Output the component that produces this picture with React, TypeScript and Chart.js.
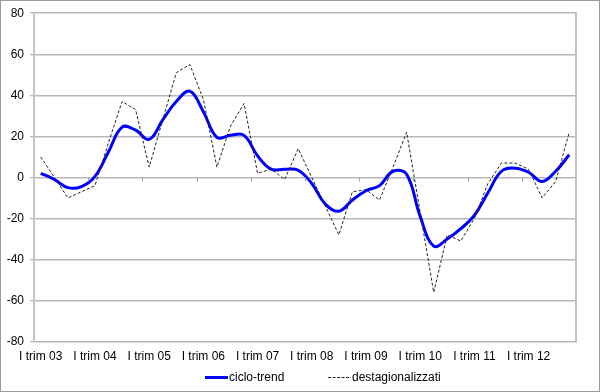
import React, { useEffect, useRef } from "react";
import { Chart, registerables } from "chart.js";

Chart.register(...registerables);

const years = ["03", "04", "05", "06", "07", "08", "09", "10", "11", "12"];
const quarters = ["I", "II", "III", "IV"];
const categories: string[] = years.flatMap((y) => quarters.map((q) => `${q} trim ${y}`));

const cicloTrend = [
  2, -1, -5, -4.5, 0.5, 12.5, 24.5, 23, 18.5, 28,
  37, 42, 32, 19.5, 20.5, 20.5, 10.5, 4, 4, 3.5,
  -3, -13, -16.5, -11, -6.5, -4, 3, 1.5, -19, -33.5,
  -30, -25, -18.5, -7.5, 3, 4.5, 2.5, -2, 3, 11,
];

const destagionalizzati = [
  10, 0, -10, -7, -4, 17, 37, 33, 5, 28,
  51, 55, 38, 5, 25, 36, 2, 4, -1, 14,
  0, -14, -28, -7, -6, -11, 5, 22, -17, -56,
  -28, -31, -20, -3, 7, 7, 4, -10, -2, 22,
];

const yTicks = { min: -80, max: 80, step: 20 };
const seriesNames = ["ciclo-trend", "destagionalizzati"];

const FONT = "'Liberation Sans', Arial, sans-serif";

const decorPlugin = {
  id: "decor",
  afterDraw(chart: any) {
    const { ctx, chartArea, scales } = chart;
    const x = scales.x;
    const y = scales.y;
    ctx.save();
    // plot right border
    ctx.strokeStyle = "#c4c4c4";
    ctx.lineWidth = 2;
    ctx.beginPath();
    ctx.moveTo(chartArea.right, chartArea.top - 1);
    ctx.lineTo(chartArea.right, chartArea.bottom + 1);
    ctx.stroke();
    // category tick marks on zero line
    const y0 = Math.round(y.getPixelForValue(0)) + 0.5;
    ctx.strokeStyle = "#a0a0a0";
    ctx.lineWidth = 1;
    for (let k = 4; k < categories.length; k += 4) {
      const bx = Math.round((x.getPixelForValue(k - 1) + x.getPixelForValue(k)) / 2) + 0.5;
      ctx.beginPath();
      ctx.moveTo(bx, y0);
      ctx.lineTo(bx, y0 + 4);
      ctx.stroke();
    }
    // outer border
    ctx.strokeStyle = "#9a9a9a";
    ctx.lineWidth = 1;
    ctx.strokeRect(0.5, 0.5, chart.width - 1, chart.height - 1);
    // legend
    const ly = 377.5;
    ctx.font = `12px ${FONT}`;
    ctx.textBaseline = "middle";
    ctx.textAlign = "left";
    ctx.fillStyle = "#000";
    ctx.strokeStyle = "#0000ff";
    ctx.lineWidth = 3;
    ctx.beginPath();
    ctx.moveTo(205, ly);
    ctx.lineTo(228, ly);
    ctx.stroke();
    ctx.fillText(seriesNames[0], 229, ly);
    ctx.strokeStyle = "#222";
    ctx.lineWidth = 1;
    ctx.setLineDash([3, 1.5]);
    ctx.beginPath();
    ctx.moveTo(328, ly);
    ctx.lineTo(351, ly);
    ctx.stroke();
    ctx.setLineDash([]);
    ctx.fillText(seriesNames[1], 352, ly);
    ctx.restore();
  },
};

export default function App() {
  const ref = useRef<HTMLCanvasElement>(null);
  useEffect(() => {
    document.body.style.margin = "0";
    const chart = new Chart(ref.current as HTMLCanvasElement, {
      type: "line",
      data: {
        labels: categories,
        datasets: [
          {
            label: seriesNames[1],
            data: destagionalizzati,
            borderColor: "#222222",
            borderWidth: 1,
            borderDash: [3, 2],
            pointRadius: 0,
            tension: 0,
            fill: false,
          },
          {
            label: seriesNames[0],
            data: cicloTrend,
            borderColor: "#0000ff",
            borderWidth: 3,
            pointRadius: 0,
            tension: 0.4,
            cubicInterpolationMode: "default",
            fill: false,
          },
        ],
      },
      options: {
        animation: false,
        responsive: false,
        layout: { padding: { top: 11, right: 24, bottom: 0, left: 0 } },
        plugins: { legend: { display: false }, tooltip: { enabled: false } },
        scales: {
          x: {
            type: "category",
            offset: true,
            grid: { display: false, drawTicks: false },
            border: { display: false },
            ticks: {
              autoSkip: false,
              maxRotation: 0,
              minRotation: 0,
              padding: 8,
              color: "#000",
              font: { family: FONT, size: 12 },
              callback: (_v: any, i: number) => (i % 4 === 0 ? categories[i].replace(/^I /, "I ") : ""),
            },
            afterFit: (s: any) => {
              s.height = 50.4;
            },
          },
          y: {
            min: yTicks.min,
            max: yTicks.max,
            ticks: {
              stepSize: yTicks.step,
              padding: 6,
              color: "#000",
              font: { family: FONT, size: 12 },
            },
            grid: { color: "#b8b8b8", lineWidth: 1.5, tickLength: 4, tickColor: "#a0a0a0", tickWidth: 1 },
            border: { color: "#c4c4c4", width: 2 },
            afterFit: (s: any) => {
              s.width = 34;
            },
          },
        },
      },
      plugins: [decorPlugin],
    });
    return () => chart.destroy();
  }, []);
  return (
    <div style={{ position: "absolute", left: 0, top: 0, width: 600, height: 392, background: "#fff" }}>
      <canvas ref={ref} width={600} height={392} />
    </div>
  );
}
